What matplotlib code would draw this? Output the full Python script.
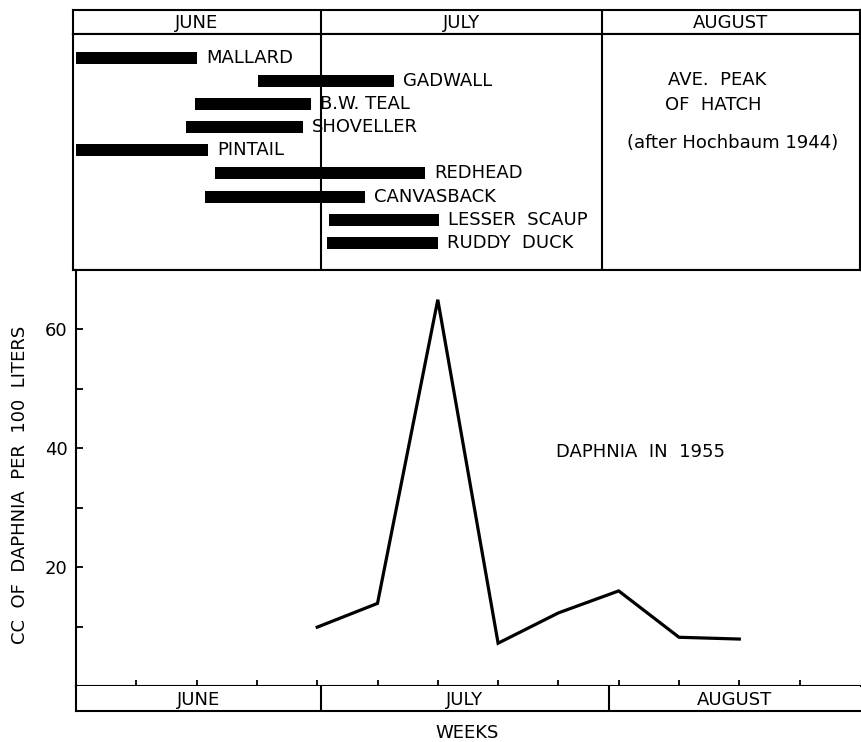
"""Duck hatching periods (after Hochbaum 1944) above Daphnia volume in 1955."""

import matplotlib
matplotlib.use("Agg")

import matplotlib.pyplot as plt
from matplotlib.ticker import FixedLocator, NullFormatter

# --- data -------------------------------------------------------------
# hatch periods, in weeks after June 1 (same scale as the lower panel)
species = ["MALLARD", "GADWALL", "B.W. TEAL", "SHOVELLER", "PINTAIL",
           "REDHEAD", "CANVASBACK", "LESSER  SCAUP", "RUDDY  DUCK"]
hatch_start = [0.0, 3.02, 1.97, 1.82, 0.0, 2.31, 2.14, 4.20, 4.16]
hatch_end = [2.01, 5.27, 3.90, 3.76, 2.19, 5.79, 4.79, 6.02, 6.00]

# daphnia samples, week number vs cc per 100 liters
weeks = [4, 5, 6, 7, 8, 9, 10, 11]
daphnia_cc = [9.9, 13.9, 65.0, 7.2, 12.3, 16.0, 8.2, 7.9]

months = ["JUNE", "JULY", "AUGUST"]
month_edges_top = [4.06, 8.72]      # month boundaries drawn in the hatch panel
month_edges_bottom = [4.06, 8.84]   # month boundaries drawn under the graph
week_ticks = list(range(1, 13))

# --- layout helpers (pixel boxes on a 861x742 canvas) ------------------
W, H = 861, 742
X0, PXW = 76, 60.3          # x pixel of week 0, pixels per week
LW = 1.5
FS = 13


def box(x0, y0, x1, y1):
    return [x0 / W, 1 - y1 / H, (x1 - x0) / W, (y1 - y0) / H]


def wk(px):
    return (px - X0) / PXW


plt.rcParams["font.family"] = ["DejaVu Sans"]
fig = plt.figure(figsize=(W / 100, H / 100), dpi=100)

x_left_top, x_right = 73, 860
xlim_top = (wk(x_left_top), wk(x_right))
xlim_low = (0, wk(x_right))


def month_band(ax, edges, xlim):
    ax.set_xlim(*xlim)
    ax.set_ylim(0, 1)
    ax.set_xticks([])
    ax.set_yticks([])
    bounds = [xlim[0]] + edges + [xlim[1]]
    for e in edges:
        ax.axvline(e, color="black", lw=LW)
    for name, a, b in zip(months, bounds[:-1], bounds[1:]):
        ax.text((a + b) / 2, 0.45, name, ha="center", va="center",
                fontsize=FS)
    for s in ax.spines.values():
        s.set_linewidth(LW)


# --- upper panel: month header + hatch bars ----------------------------
ax_tm = fig.add_axes(box(x_left_top, 10, x_right, 34))
month_band(ax_tm, month_edges_top, xlim_top)

ax_top = fig.add_axes(box(x_left_top, 34, x_right, 270))
ax_top.set_xlim(*xlim_top)
ax_top.set_ylim(9.18, -1.04)
ax_top.set_xticks([])
ax_top.set_yticks([])
for s in ax_top.spines.values():
    s.set_linewidth(LW)
for e in month_edges_top:
    ax_top.axvline(e, color="black", lw=LW)

rows = list(range(len(species)))
ax_top.barh(rows, [e - s for s, e in zip(hatch_start, hatch_end)],
            left=hatch_start, height=0.52, color="black")
for r, name, end in zip(rows, species, hatch_end):
    ax_top.text(end + 0.15, r, name, ha="left", va="center", fontsize=FS)

ax_top.text(wk(717), 0.95, "AVE.  PEAK", ha="center", va="center", fontsize=FS)
ax_top.text(wk(713), 2.03, "OF  HATCH", ha="center", va="center", fontsize=FS)
ax_top.text(wk(733), 3.68, "(after Hochbaum 1944)", ha="center",
            va="center", fontsize=FS)

# --- lower panel: daphnia curve ----------------------------------------
ax = fig.add_axes(box(X0, 270, x_right, 686))
ax.plot(weeks, daphnia_cc, color="black", lw=2.3, solid_joinstyle="miter")
ax.set_xlim(*xlim_low)
ax.set_ylim(0, 70)
ax.spines["right"].set_visible(False)
for s in ax.spines.values():
    s.set_linewidth(LW)
ax.xaxis.set_major_locator(FixedLocator(week_ticks))
ax.xaxis.set_major_formatter(NullFormatter())
ax.yaxis.set_major_locator(FixedLocator([20, 40, 60]))
ax.yaxis.set_minor_locator(FixedLocator([10, 30, 50]))
ax.tick_params(axis="x", direction="in", length=4, width=1.3)
ax.tick_params(axis="y", which="major", direction="in", length=5, width=1.3,
               labelsize=FS, pad=6)
ax.tick_params(axis="y", which="minor", direction="in", length=5, width=1.3)
ax.text(wk(556), 39.4, "DAPHNIA  IN  1955", ha="left", va="center",
        fontsize=FS)

ax_bm = fig.add_axes(box(X0, 686, x_right, 711))
month_band(ax_bm, month_edges_bottom, xlim_low)
ax_bm.spines["right"].set_visible(False)
ax_bm.spines["top"].set_visible(False)

fig.text(467 / W, 1 - 733 / H, "WEEKS", ha="center", va="center", fontsize=FS)
fig.text(20 / W, 1 - 485 / H, "CC  OF  DAPHNIA  PER  100  LITERS",
         rotation=90, ha="center", va="center", fontsize=FS)

fig.savefig("out.png", dpi=100)
